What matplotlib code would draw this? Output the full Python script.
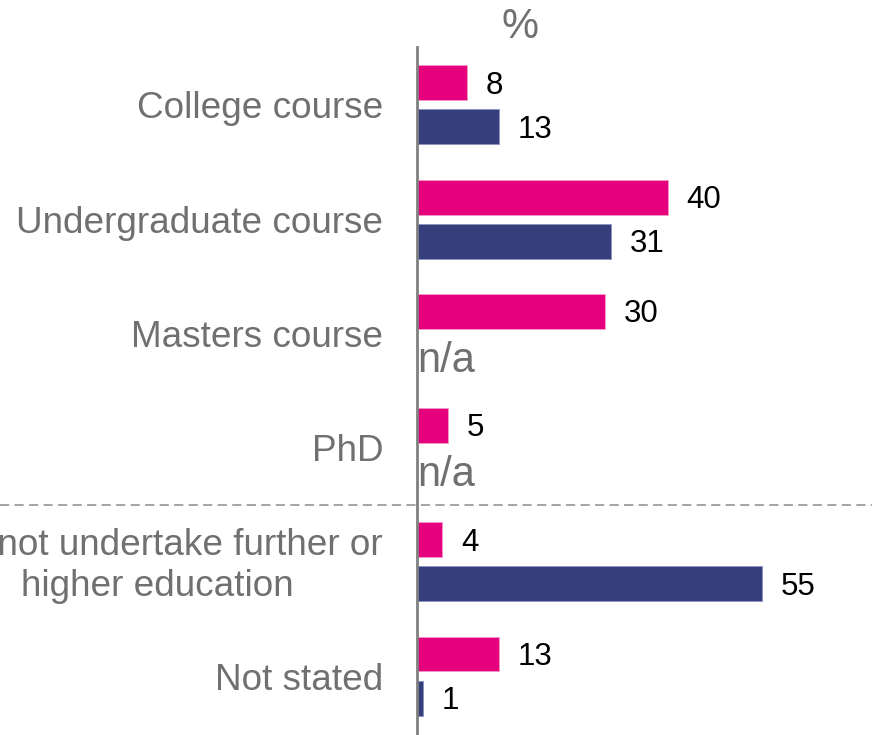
import numpy as np
import matplotlib
matplotlib.use("Agg")
import matplotlib.pyplot as plt
import matplotlib.transforms as mtransforms

plt.rcParams['font.family'] = ['Liberation Sans', 'DejaVu Sans']

# Dati del grafico
categories = ["College course", "Undergraduate course", "Masters course", "PhD",
              "Did not undertake further or\nhigher education", "Not stated"]
pink_values = [8, 40, 30, 5, 4, 13]
navy_values = [13, 31, None, None, 55, 1]

PINK = "#E6007E"
NAVY = "#353F7B"
GREY = "#707070"

fig = plt.figure(figsize=(8.72, 7.35), dpi=100)
ax = fig.add_axes([417 / 872, 0.0, 1 - 417 / 872, (735 - 47) / 735])

y = np.arange(len(categories))
off = 0.193
h = 0.306

for i, (p, n) in enumerate(zip(pink_values, navy_values)):
    ax.barh(y[i] - off, p, height=h, color=PINK, edgecolor="#f59ac8", linewidth=0.6)
    ax.annotate(str(p), (p, y[i] - off), xytext=(13.5, -2), textcoords="offset points",
                ha="left", va="center", fontsize=22.5, color="black")
    if n is None:
        ax.annotate("n/a", (0, y[i] + off), xytext=(0.5, -4), textcoords="offset points",
                    ha="left", va="center", fontsize=30, color=GREY)
    else:
        ax.barh(y[i] + off, n, height=h, color=NAVY, edgecolor="#8a92bd", linewidth=0.6)
        ax.annotate(str(n), (n, y[i] + off), xytext=(13.5, -2), textcoords="offset points",
                    ha="left", va="center", fontsize=22.5, color="black")

# etichette delle categorie a sinistra dell'asse
lab_tr = mtransforms.offset_copy(ax.get_yaxis_transform(), fig=fig, x=-34, y=-4, units="dots")
for i, c in enumerate(categories):
    ax.text(0, y[i], c, transform=lab_tr, ha="right", va="center",
            multialignment="center", fontsize=26.6, color=GREY, linespacing=1.22)

# linea tratteggiata di separazione
sep_tr = mtransforms.blended_transform_factory(fig.transFigure, ax.transData)
ax.plot([0, 1], [3.5, 3.5], transform=sep_tr, color="#8c8c8c", lw=1.1,
        dashes=(6, 3.5), clip_on=False)

fig.text(520 / 872, 1 - 27 / 735, "%", ha="center", va="center", fontsize=30, color=GREY)

ax.set_xlim(0, (872 - 417) / 6.27)
ax.set_ylim(5.516, -0.507)
for s in ["top", "right", "bottom"]:
    ax.spines[s].set_visible(False)
ax.spines["left"].set_color("#808080")
ax.spines["left"].set_linewidth(2)
ax.set_xticks([])
ax.set_yticks([])

fig.savefig("out.png", dpi=100)
